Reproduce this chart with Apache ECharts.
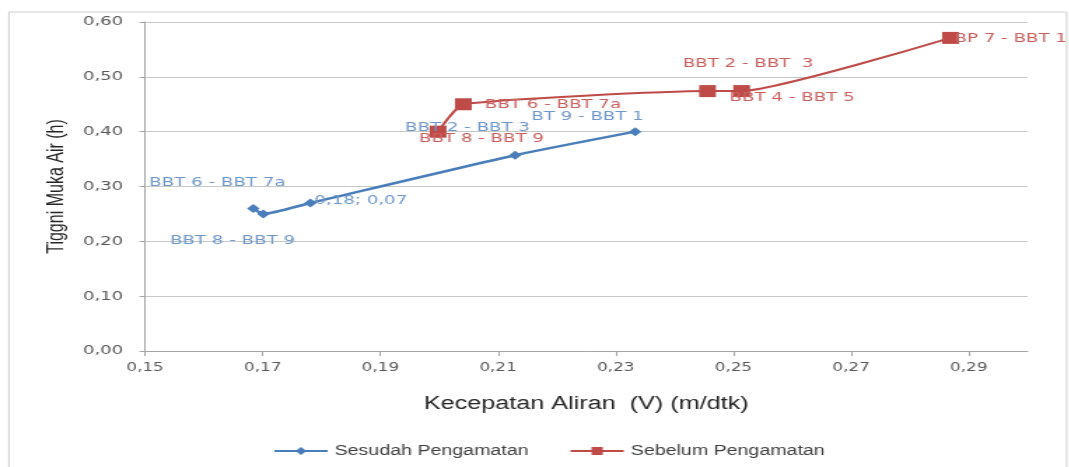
<!DOCTYPE html>
<html>
<head>
<meta charset="utf-8">
<script src="https://cdn.jsdelivr.net/npm/echarts@6/dist/echarts.min.js"></script>
<style>
  html, body { margin: 0; padding: 0; background: #fff; overflow: hidden; }
  #wrap { width: 1069px; height: 467px; overflow: hidden; }
  /* the chart is laid out narrow and widened horizontally */
  #chart { width: 763.57px; height: 467px; transform: scaleX(1.4); transform-origin: 0 0; }
</style>
</head>
<body>
<div id="wrap"><div id="chart"></div></div>
<script>
// Kecepatan aliran (m/dtk) dan tinggi muka air (m)
const sesudahV = [0.1684, 0.1701, 0.1781, 0.2129, 0.2333];
const sesudahH = [0.26, 0.25, 0.27, 0.357, 0.40];
const sesudahLabel = ['BBT 6 - BBT 7a', 'BBT 8 - BBT 9', '0,18; 0,07', 'BBT 2 - BBT 3', 'BT 9 - BBT 1'];

const sebelumV = [0.1998, 0.2041, 0.2456, 0.2514, 0.2869];
const sebelumH = [0.40, 0.45, 0.474, 0.474, 0.571];
const sebelumLabel = ['BBT 8 - BBT 9', 'BBT 6 - BBT 7a', 'BBT 2 - BBT  3', 'BBT 4 - BBT 5', 'BP 7 - BBT 1'];

// label offsets from each marker centre
const sesudahOffset = [[-25.7, -26], [-22, 27], [36, -2], [-34, -28], [-34, -15]];
const sebelumOffset = [[31, 7], [64, 0], [29, -27], [36, 7], [43, 1]];

const BLUE = '#4a7ebb', RED = '#be4b48';
const BLUE_TXT = '#6f98c9', RED_TXT = '#c9625f';
const comma = v => v.toFixed(2).replace('.', ',');

function build(v, h, labels, offsets, color) {
  return v.map((x, i) => ({
    value: [x, h[i]],
    label: {
      show: true, position: 'inside', offset: offsets[i],
      formatter: labels[i], color: color,
      fontFamily: 'DejaVu Sans', fontSize: 13
    }
  }));
}

const chart = echarts.init(document.getElementById('chart'));
chart.setOption({
  animation: false,
  backgroundColor: '#fff',
  grid: { left: 103.6, right: 30, top: 22, bottom: 116 },
  graphic: [{
    type: 'rect', silent: true,
    shape: { x: 6.4, y: 12, width: 755.5, height: 470 },
    style: { fill: 'none', stroke: '#cfcfcf', lineWidth: 1 }
  }],
  xAxis: {
    type: 'value', min: 0.15, max: 0.30, interval: 0.02,
    name: 'Kecepatan Aliran  (V) (m/dtk)', nameLocation: 'middle', nameGap: 44,
    nameTextStyle: { fontFamily: 'Liberation Sans', fontSize: 18, color: '#262626' },
    axisLine: { show: true, lineStyle: { color: '#a6a6a6', width: 1 } },
    axisTick: { show: true, inside: false, length: 5, lineStyle: { color: '#a6a6a6' } },
    axisLabel: {
      margin: 11, showMaxLabel: false, color: '#595959',
      fontFamily: 'DejaVu Sans', fontSize: 12, formatter: comma
    },
    splitLine: { show: false }
  },
  yAxis: {
    type: 'value', min: 0, max: 0.6, interval: 0.1,
    name: 'Tiggni Muka Air (h)', nameLocation: 'middle', nameGap: 55, nameRotate: 90,
    nameTextStyle: { fontFamily: 'Liberation Sans', fontSize: 16, color: '#262626' },
    axisLine: { show: true, lineStyle: { color: '#a6a6a6', width: 1 } },
    axisTick: { show: true, length: 4, lineStyle: { color: '#a6a6a6' } },
    axisLabel: {
      margin: 15.5, color: '#595959',
      fontFamily: 'DejaVu Sans', fontSize: 13, formatter: comma
    },
    splitLine: { show: true, lineStyle: { color: '#c8c8c8', width: 1 } }
  },
  legend: {
    left: 190, top: 439, itemWidth: 38, itemHeight: 10, itemGap: 29,
    textStyle: { fontFamily: 'Liberation Sans', fontSize: 14, color: '#404040' },
    data: ['Sesudah Pengamatan', 'Sebelum Pengamatan']
  },
  series: [
    {
      name: 'Sesudah Pengamatan', type: 'line', smooth: 0.2,
      symbol: 'diamond', symbolSize: 9,
      itemStyle: { color: BLUE },
      lineStyle: { color: BLUE, width: 2.5 },
      data: build(sesudahV, sesudahH, sesudahLabel, sesudahOffset, BLUE_TXT)
    },
    {
      name: 'Sebelum Pengamatan', type: 'line', smooth: 0.15,
      symbol: 'rect', symbolSize: 12,
      itemStyle: { color: RED },
      lineStyle: { color: RED, width: 2 },
      data: build(sebelumV, sebelumH, sebelumLabel, sebelumOffset, RED_TXT)
    }
  ]
});
</script>
</body>
</html>
